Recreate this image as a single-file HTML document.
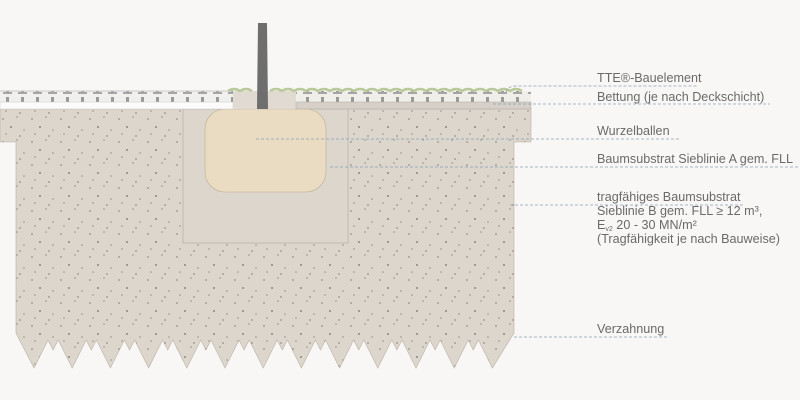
<!DOCTYPE html>
<html><head><meta charset="utf-8"><style>
html,body{margin:0;padding:0;background:#f8f7f5;}
svg{display:block}
text{font-family:"Liberation Sans",sans-serif;font-size:12.6px;fill:#6a6a6a;}
</style></head><body>
<svg width="800" height="400" viewBox="0 0 800 400" xmlns="http://www.w3.org/2000/svg">
<defs>
<pattern id="dots" width="29" height="23" patternUnits="userSpaceOnUse">
<circle cx="3" cy="4" r="0.9" fill="#9a8f86"/>
<circle cx="17" cy="2" r="0.8" fill="#9a8f86"/>
<circle cx="11" cy="12" r="1" fill="#8f857c"/>
<circle cx="24" cy="15" r="0.8" fill="#9a8f86"/>
<circle cx="6" cy="19" r="0.8" fill="#9a8f86"/>
<circle cx="20" cy="21" r="0.9" fill="#9a8f86"/>
</pattern>
<pattern id="pegs" width="15" height="12" patternUnits="userSpaceOnUse">
<rect x="6" y="1" width="3" height="8" fill="#9a9a9a"/>
<rect x="3" y="8" width="9" height="2" fill="#a5a5a5"/>
</pattern>
<path id="soil" d="M0,109 L531,109 L531,142 L514,142 L514,333 L492.4,368 L478.4,340 L473.3,350 L468.2,340 L454.2,368 L440.2,340 L435.1,350 L430,340 L416,368 L402,340 L396.9,350 L391.8,340 L377.8,368 L363.8,340 L358.7,350 L353.6,340 L339.6,368 L325.6,340 L320.5,350 L315.4,340 L301.4,368 L287.4,340 L282.3,350 L277.2,340 L263.2,368 L249.2,340 L244.1,350 L239,340 L225,368 L211,340 L205.9,350 L200.8,340 L186.8,368 L172.8,340 L167.7,350 L162.6,340 L148.6,368 L134.6,340 L129.5,350 L124.4,340 L110.4,368 L96.4,340 L91.3,350 L86.2,340 L72.2,368 L58.2,340 L53.1,350 L48,340 L34,368 L16,333 L16,142 L0,142 Z"/>
<clipPath id="cp"><use href="#soil"/></clipPath>
</defs>
<rect width="800" height="400" fill="#f8f7f5"/>
<use href="#soil" fill="#ddd6cd" stroke="#b9b0a6" stroke-width="0.6"/>
<rect x="0" y="108" width="531" height="260" fill="url(#dots)" clip-path="url(#cp)"/>
<!-- tree pit -->
<rect x="183" y="109" width="165" height="134" fill="#ddd6cd" stroke="#b0a8a0" stroke-width="0.6"/>
<rect x="205" y="109" width="121" height="83" rx="20" fill="#e9dcc3" stroke="#bfae90" stroke-width="0.6"/>
<!-- pavement left -->
<rect x="0" y="91" width="233" height="11" fill="#f0f0ee"/>
<rect x="0" y="91" width="233" height="11" fill="url(#pegs)"/>
<line x1="0" y1="91" x2="233" y2="91" stroke="#bdbdbd" stroke-width="0.8"/>
<rect x="0" y="102" width="233" height="7" fill="#fbfbfb" stroke="#c8c8c8" stroke-width="0.5"/>
<rect x="233" y="91" width="63" height="18" fill="#e0dad3"/>
<!-- pavement right -->
<rect x="296" y="91" width="235" height="11" fill="#efeee9"/>
<rect x="296" y="91" width="235" height="11" fill="url(#pegs)"/>
<rect x="296" y="102" width="235" height="7" fill="#d6d0c8" stroke="#b0aaa2" stroke-width="0.5"/>
<path d="M228,91 q6,-4 12,0 q6,-4 12,0 M270,91 q6,-4 12,0 q6,-4 12,0 q6,-4 12,0 q6,-4 12,0 q6,-4 12,0 q6,-4 12,0 q6,-4 12,0 q6,-4 12,0 q6,-4 12,0 q6,-4 12,0 q6,-4 12,0 q6,-4 12,0 q6,-4 12,0 q6,-4 12,0 q6,-4 12,0 q6,-4 12,0 q6,-4 12,0 q6,-4 12,0 q6,-4 12,0 q6,-4 12,0 q6,-4 12,0" fill="none" stroke="#b9c99a" stroke-width="2.5"/>
<polygon points="258,23 267,23 268,109 257,109" fill="#6e6e6e"/>
<g stroke="#86a2b3" stroke-width="0.8" stroke-dasharray="3,2" fill="none">
<path d="M506,92 Q508,86 516,86 L698,86"/>
<line x1="493" y1="104" x2="770" y2="104"/>
<line x1="256" y1="139" x2="680" y2="139"/>
<line x1="330" y1="167" x2="800" y2="167"/>
<line x1="510" y1="205" x2="745" y2="205"/>
<line x1="514" y1="337" x2="667" y2="337"/>
</g>
<text x="597" y="82">TTE®-Bauelement</text>
<text x="597" y="101">Bettung (je nach Deckschicht)</text>
<text x="597" y="135">Wurzelballen</text>
<text x="597" y="163">Baumsubstrat Sieblinie A gem. FLL</text>
<text x="597" y="201">tragfähiges Baumsubstrat</text>
<text x="597" y="215">Sieblinie B gem. FLL ≥ 12 m³,</text>
<text x="597" y="229">E<tspan font-size="7" dy="2">v2</tspan><tspan dy="-2"> 20 - 30 MN/m²</tspan></text>
<text x="597" y="243">(Tragfähigkeit je nach Bauweise)</text>
<text x="597" y="333">Verzahnung</text>
</svg>
</body></html>
